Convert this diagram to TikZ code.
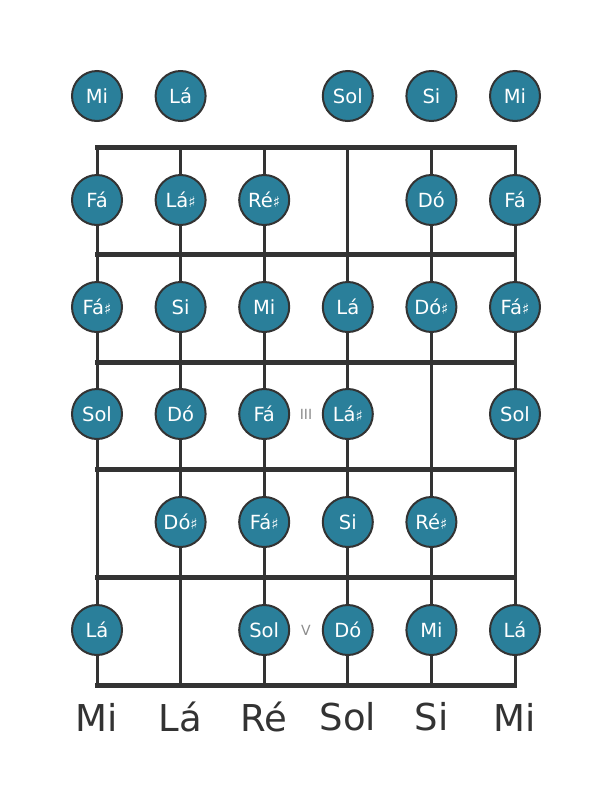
\documentclass[tikz,border=0pt]{standalone}
\usepackage{fontspec}
\setmainfont{DejaVu Sans}
\usetikzlibrary{calc}
\definecolor{notefill}{HTML}{2A7F9A}
\definecolor{wire}{HTML}{333333}
\newcommand{\shp}{{\fontsize{15}{15}\selectfont ♯}}
\newcommand{\Sx}{83.6}
\newcommand{\Fy}{107.6}

\tikzset{
  note/.style={circle, draw=wire, line width=2pt, fill=notefill, text=white,
    minimum size=50pt, inner sep=0pt, font=\fontsize{19.5}{19.5}\selectfont},
  fretline/.style={wire, line width=5pt},
  stringline/.style={wire, line width=3pt},
  tuning/.style={text=wire, font=\fontsize{37}{37}\selectfont},
  fretnum/.style={text=gray!90, font=\fontsize{14}{14}\selectfont}
}

\begin{document}
\begin{tikzpicture}[x=1pt,y=-1pt]
  \useasboundingbox (0,0) rectangle (611,801);

  % ends of the strings (top = nut, bottom = fret 5)
  \foreach \s in {1,...,6} {
    \coordinate (t\s) at ({97+(\s-1)*\Sx}, 147);
    \coordinate (b\s) at ({97+(\s-1)*\Sx}, 685);
  }
  % draw the strings
  \foreach \s in {1,...,6} \draw[stringline] (t\s) -- (b\s);

  % draw the fret lines
  \foreach \f in {0,...,5} {
    \coordinate (fl\f) at (95, {147+\f*\Fy});
    \coordinate (fr\f) at (517, {147+\f*\Fy});
    \draw[fretline] (fl\f) -- (fr\f);
  }

  % open strings
  \node[note] (o1) at (97,96) {Mi};
  \node[note] (o2) at (180.6,96) {Lá};
  \node[note] (o4) at (347.8,96) {Sol};
  \node[note] (o5) at (431.4,96) {Si};
  \node[note] (o6) at (515,96) {Mi};

  % fret 1
  \node[note] (a1) at (97,200) {Fá};
  \node[note] (a2) at (180.6,200) {Lá\shp};
  \node[note] (a3) at (264.2,200) {Ré\shp};
  \node[note] (a5) at (431.4,200) {Dó};
  \node[note] (a6) at (515,200) {Fá};

  % fret 2
  \node[note] (b1n) at (97,307) {Fá\shp};
  \node[note] (b2n) at (180.6,307) {Si};
  \node[note] (b3n) at (264.2,307) {Mi};
  \node[note] (b4n) at (347.8,307) {Lá};
  \node[note] (b5n) at (431.4,307) {Dó\shp};
  \node[note] (b6n) at (515,307) {Fá\shp};

  % fret 3
  \node[note] (c1) at (97,414) {Sol};
  \node[note] (c2) at (180.6,414) {Dó};
  \node[note] (c3) at (264.2,414) {Fá};
  \node[note] (c4) at (347.8,414) {Lá\shp};
  \node[note] (c6) at (515,414) {Sol};
  \node[fretnum] (n3) at ($(c3)!0.5!(c4)$) {III};

  % fret 4
  \node[note] (d2) at (180.6,522) {Dó\shp};
  \node[note] (d3) at (264.2,522) {Fá\shp};
  \node[note] (d4) at (347.8,522) {Si};
  \node[note] (d5) at (431.4,522) {Ré\shp};

  % fret 5
  \node[note] (e1) at (97,630) {Lá};
  \node[note] (e3) at (264.2,630) {Sol};
  \node[note] (e4) at (347.8,630) {Dó};
  \node[note] (e5) at (431.4,630) {Mi};
  \node[note] (e6) at (515,630) {Lá};
  \node[fretnum] (n5) at ($(e3)!0.5!(e4)$) {V};

  % tuning below the neck
  \node[tuning] (s1) at (97,717) {Mi};
  \node[tuning] (s2) at (180.6,717) {Lá};
  \node[tuning] (s3) at (264.2,717) {Ré};
  \node[tuning] (s4) at (347.8,717) {Sol};
  \node[tuning] (s5) at (431.4,717) {Si};
  \node[tuning] (s6) at (515,717) {Mi};

\end{tikzpicture}
\end{document}
